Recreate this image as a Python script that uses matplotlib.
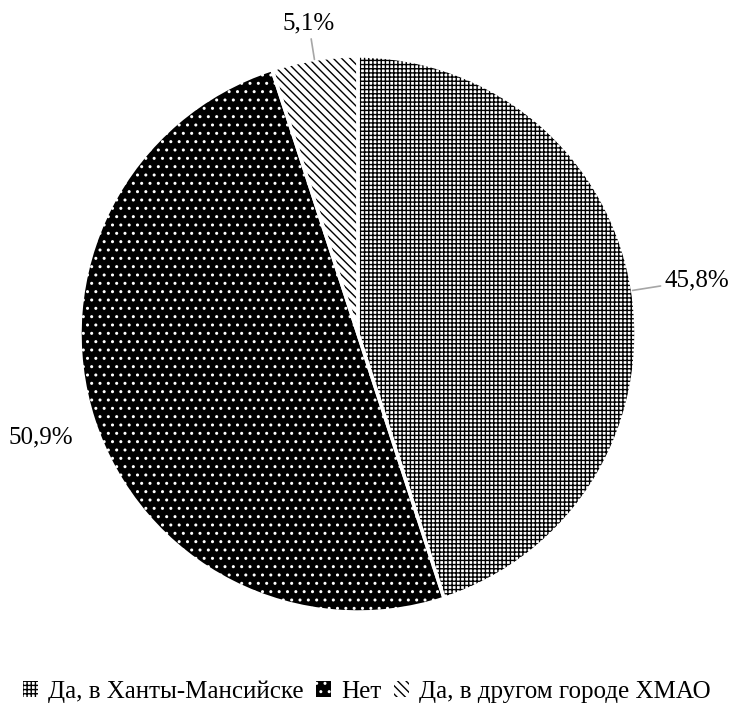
import numpy as np
import matplotlib
matplotlib.use("Agg")
import matplotlib.pyplot as plt

# --> Data.
categories = ["Да, в Ханты-Мансийске", "Нет", "Да, в другом городе ХМАО"]
shares = [45.8, 50.9, 5.1]
pct_labels = ["45,8%", "50,9%", "5,1%"]

# --> Styles for each slice (face, hatch, hatch colour).
faces = ["white", "black", "white"]
hatches = ["++++", "..", "\\\\\\\\"]
hatch_cols = ["black", "white", "black"]
label_dist = [1.235, 1.20, 1.13]
show_line = [True, False, True]

plt.rcParams["font.family"] = ["Liberation Serif", "DejaVu Serif"]
plt.rcParams["hatch.linewidth"] = 1.0

W, H = 734, 715
fig = plt.figure(figsize=(W / 100, H / 100), dpi=100)
ax = fig.add_axes([80 / W, 103 / H, 556 / W, 556 / H])

# --> Hatched slices.
wedges, _ = ax.pie(shares, startangle=90, counterclock=False,
                   wedgeprops=dict(linewidth=0))
for w, fc, h, hc in zip(wedges, faces, hatches, hatch_cols):
    w.set_facecolor(fc)
    w.set_edgecolor(hc)
    w.set_hatch(h)
    w.set_linewidth(0)

# --> White borders between slices.
ax.pie(shares, startangle=90, counterclock=False,
       wedgeprops=dict(fill=False, edgecolor="white", linewidth=2.5))

# --> Percentage labels with leader lines.
for w, lab, d, line in zip(wedges, pct_labels, label_dist, show_line):
    ang = np.deg2rad(0.5 * (w.theta1 + w.theta2))
    x, y = np.cos(ang), np.sin(ang)
    props = dict(arrowstyle="-", color="#a6a6a6", lw=1.2,
                 shrinkA=1, shrinkB=0) if line else None
    ax.annotate(lab, xy=(x, y), xytext=(d * x, d * y), ha="center",
                va="center", fontsize=18, color="black",
                arrowprops=props, annotation_clip=False)

ax.set_xlim(-1, 1)
ax.set_ylim(-1, 1)
ax.set_aspect("equal")
ax.axis("off")

fig.legend(wedges, categories, loc="lower center", bbox_to_anchor=(0.5, -0.014),
           ncol=3, frameon=False, fontsize=18, handlelength=0.6,
           handleheight=0.6, handletextpad=0.4, columnspacing=0.5)

fig.savefig("out.png", dpi=100)
